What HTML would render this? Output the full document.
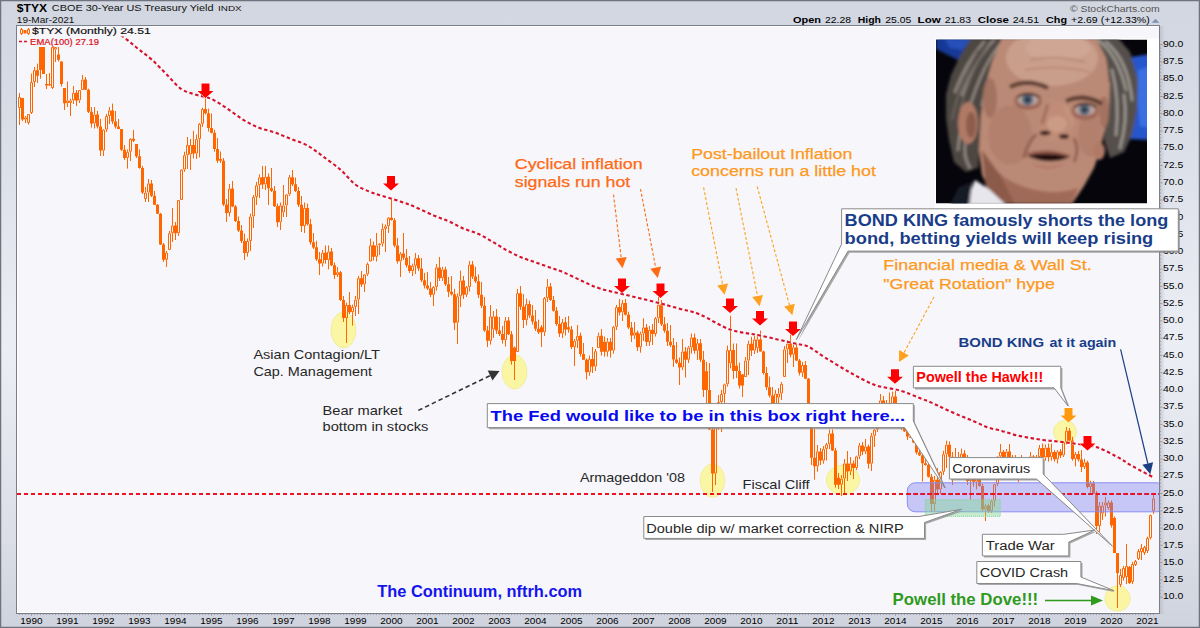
<!DOCTYPE html><html><head><meta charset="utf-8"><style>html,body{margin:0;padding:0;background:#d5d9e2;}svg{display:block;}</style></head><body><svg width="1200" height="628" viewBox="0 0 1200 628" font-family="Liberation Sans"><defs><filter id="bl" x="-5%" y="-5%" width="110%" height="110%"><feGaussianBlur stdDeviation="1.6"/></filter><filter id="bl2"><feGaussianBlur stdDeviation="0.8"/></filter><clipPath id="plot"><rect x="17" y="26" width="1142" height="587"/></clipPath><clipPath id="ph"><rect x="936" y="39.5" width="211" height="164"/></clipPath><radialGradient id="skin" cx="0.45" cy="0.35" r="0.7"><stop offset="0" stop-color="#d3a38d"/><stop offset="0.6" stop-color="#c08a74"/><stop offset="1" stop-color="#9a6a58"/></radialGradient></defs><linearGradient id="bgg" x1="0" y1="0" x2="0" y2="1"><stop offset="0" stop-color="#d2d6e0"/><stop offset="0.12" stop-color="#d6dae4"/><stop offset="0.55" stop-color="#eceef5"/><stop offset="0.85" stop-color="#dcdfe8"/><stop offset="1" stop-color="#cfd3dd"/></linearGradient><rect x="0" y="0" width="1200" height="628" fill="url(#bgg)"/><rect x="0.5" y="0.5" width="1199" height="627" fill="none" stroke="#6e737e" stroke-width="1.5"/><rect x="16.5" y="25.5" width="1143" height="588" fill="#f6f6fb" stroke="#7a7e88" stroke-width="1"/><path d="M17.5 26.5H1158.5M17.5 26.5V612.5H1158.5" stroke="#ffffff" stroke-width="1" fill="none"/><linearGradient id="shr" x1="0" y1="0" x2="1" y2="0"><stop offset="0" stop-color="#b8bcc6" stop-opacity="0.7"/><stop offset="1" stop-color="#b8bcc6" stop-opacity="0"/></linearGradient><rect x="1160" y="26" width="5" height="588" fill="url(#shr)"/><path d="M1159.5 597.1h3M1159.5 593.6h1.5M1159.5 590.2h1.5M1159.5 586.7h1.5M1159.5 583.3h1.5M1159.5 579.8h3M1159.5 576.4h1.5M1159.5 572.9h1.5M1159.5 569.5h1.5M1159.5 566h1.5M1159.5 562.5h3M1159.5 559.1h1.5M1159.5 555.6h1.5M1159.5 552.2h1.5M1159.5 548.7h1.5M1159.5 545.3h3M1159.5 541.8h1.5M1159.5 538.4h1.5M1159.5 534.9h1.5M1159.5 531.5h1.5M1159.5 528h3M1159.5 524.6h1.5M1159.5 521.1h1.5M1159.5 517.7h1.5M1159.5 514.2h1.5M1159.5 510.8h3M1159.5 507.3h1.5M1159.5 503.9h1.5M1159.5 500.4h1.5M1159.5 497h1.5M1159.5 493.5h3M1159.5 490h1.5M1159.5 486.6h1.5M1159.5 483.1h1.5M1159.5 479.7h1.5M1159.5 476.2h3M1159.5 472.8h1.5M1159.5 469.3h1.5M1159.5 465.9h1.5M1159.5 462.4h1.5M1159.5 459h3M1159.5 455.5h1.5M1159.5 452.1h1.5M1159.5 448.6h1.5M1159.5 445.2h1.5M1159.5 441.7h3M1159.5 438.3h1.5M1159.5 434.8h1.5M1159.5 431.4h1.5M1159.5 427.9h1.5M1159.5 424.4h3M1159.5 421h1.5M1159.5 417.5h1.5M1159.5 414.1h1.5M1159.5 410.6h1.5M1159.5 407.2h3M1159.5 403.7h1.5M1159.5 400.3h1.5M1159.5 396.8h1.5M1159.5 393.4h1.5M1159.5 389.9h3M1159.5 386.5h1.5M1159.5 383h1.5M1159.5 379.6h1.5M1159.5 376.1h1.5M1159.5 372.7h3M1159.5 369.2h1.5M1159.5 365.8h1.5M1159.5 362.3h1.5M1159.5 358.9h1.5M1159.5 355.4h3M1159.5 351.9h1.5M1159.5 348.5h1.5M1159.5 345h1.5M1159.5 341.6h1.5M1159.5 338.1h3M1159.5 334.7h1.5M1159.5 331.2h1.5M1159.5 327.8h1.5M1159.5 324.3h1.5M1159.5 320.9h3M1159.5 317.4h1.5M1159.5 314h1.5M1159.5 310.5h1.5M1159.5 307.1h1.5M1159.5 303.6h3M1159.5 300.2h1.5M1159.5 296.7h1.5M1159.5 293.3h1.5M1159.5 289.8h1.5M1159.5 286.4h3M1159.5 282.9h1.5M1159.5 279.4h1.5M1159.5 276h1.5M1159.5 272.5h1.5M1159.5 269.1h3M1159.5 265.6h1.5M1159.5 262.2h1.5M1159.5 258.7h1.5M1159.5 255.3h1.5M1159.5 251.8h3M1159.5 248.4h1.5M1159.5 244.9h1.5M1159.5 241.5h1.5M1159.5 238h1.5M1159.5 234.6h3M1159.5 231.1h1.5M1159.5 227.7h1.5M1159.5 224.2h1.5M1159.5 220.8h1.5M1159.5 217.3h3M1159.5 213.8h1.5M1159.5 210.4h1.5M1159.5 206.9h1.5M1159.5 203.5h1.5M1159.5 200h3M1159.5 196.6h1.5M1159.5 193.1h1.5M1159.5 189.7h1.5M1159.5 186.2h1.5M1159.5 182.8h3M1159.5 179.3h1.5M1159.5 175.9h1.5M1159.5 172.4h1.5M1159.5 169h1.5M1159.5 165.5h3M1159.5 162.1h1.5M1159.5 158.6h1.5M1159.5 155.2h1.5M1159.5 151.7h1.5M1159.5 148.2h3M1159.5 144.8h1.5M1159.5 141.3h1.5M1159.5 137.9h1.5M1159.5 134.4h1.5M1159.5 131h3M1159.5 127.5h1.5M1159.5 124.1h1.5M1159.5 120.6h1.5M1159.5 117.2h1.5M1159.5 113.7h3M1159.5 110.3h1.5M1159.5 106.8h1.5M1159.5 103.4h1.5M1159.5 99.9h1.5M1159.5 96.5h3M1159.5 93h1.5M1159.5 89.6h1.5M1159.5 86.1h1.5M1159.5 82.7h1.5M1159.5 79.2h3M1159.5 75.7h1.5M1159.5 72.3h1.5M1159.5 68.8h1.5M1159.5 65.4h1.5M1159.5 61.9h3M1159.5 58.5h1.5M1159.5 55h1.5M1159.5 51.6h1.5M1159.5 48.1h1.5M1159.5 44.7h3" stroke="#8a8e98" stroke-width="0.8" fill="none"/><path d="M19.5 614v1M22.5 614v1M25.5 614v1M28.5 614v1M31.5 614v2M34.5 614v1M37.5 614v1M40.5 614v1M43.5 614v1M46.5 614v1M49.5 614v1M52.5 614v1M55.5 614v1M58.5 614v1M61.5 614v1M64.5 614v1M67.5 614v2M70.5 614v1M73.5 614v1M76.5 614v1M79.5 614v1M82.5 614v1M85.5 614v1M88.5 614v1M91.5 614v1M94.5 614v1M97.5 614v1M100.5 614v1M103.5 614v2M106.5 614v1M109.5 614v1M112.5 614v1M115.5 614v1M118.5 614v1M121.5 614v1M124.5 614v1M127.5 614v1M130.5 614v1M133.5 614v1M136.5 614v1M139.5 614v2M142.5 614v1M145.5 614v1M148.5 614v1M151.5 614v1M154.5 614v1M157.5 614v1M160.5 614v1M163.5 614v1M166.5 614v1M169.5 614v1M172.5 614v1M175.5 614v2M178.5 614v1M181.5 614v1M184.5 614v1M187.5 614v1M190.5 614v1M193.5 614v1M196.5 614v1M199.5 614v1M202.5 614v1M205.5 614v1M208.5 614v1M211.5 614v2M214.5 614v1M217.5 614v1M220.5 614v1M223.5 614v1M226.5 614v1M229.5 614v1M232.5 614v1M235.5 614v1M238.5 614v1M241.5 614v1M244.5 614v1M247.5 614v2M250.5 614v1M253.5 614v1M256.5 614v1M259.5 614v1M262.5 614v1M265.5 614v1M268.5 614v1M271.5 614v1M274.5 614v1M277.5 614v1M280.5 614v1M283.5 614v2M286.5 614v1M289.5 614v1M292.5 614v1M295.5 614v1M298.5 614v1M301.5 614v1M304.5 614v1M307.5 614v1M310.5 614v1M313.5 614v1M316.5 614v1M319.5 614v2M322.5 614v1M325.5 614v1M328.5 614v1M331.5 614v1M334.5 614v1M337.5 614v1M340.5 614v1M343.5 614v1M346.5 614v1M349.5 614v1M352.5 614v1M355.5 614v2M358.5 614v1M361.5 614v1M364.5 614v1M367.5 614v1M370.5 614v1M373.5 614v1M376.5 614v1M379.5 614v1M382.5 614v1M385.5 614v1M388.5 614v1M391.5 614v2M394.5 614v1M397.5 614v1M400.5 614v1M403.5 614v1M406.5 614v1M409.5 614v1M412.5 614v1M415.5 614v1M418.5 614v1M421.5 614v1M424.5 614v1M427.5 614v2M430.5 614v1M433.5 614v1M436.5 614v1M439.5 614v1M442.5 614v1M445.5 614v1M448.5 614v1M451.5 614v1M454.5 614v1M457.5 614v1M460.5 614v1M463.5 614v2M466.5 614v1M469.5 614v1M472.5 614v1M475.5 614v1M478.5 614v1M481.5 614v1M484.5 614v1M487.5 614v1M490.5 614v1M493.5 614v1M496.5 614v1M499.5 614v2M502.5 614v1M505.5 614v1M508.5 614v1M511.5 614v1M514.5 614v1M517.5 614v1M520.5 614v1M523.5 614v1M526.5 614v1M529.5 614v1M532.5 614v1M535.5 614v2M538.5 614v1M541.5 614v1M544.5 614v1M547.5 614v1M550.5 614v1M553.5 614v1M556.5 614v1M559.5 614v1M562.5 614v1M565.5 614v1M568.5 614v1M571.5 614v2M574.5 614v1M577.5 614v1M580.5 614v1M583.5 614v1M586.5 614v1M589.5 614v1M592.5 614v1M595.5 614v1M598.5 614v1M601.5 614v1M604.5 614v1M607.5 614v2M610.5 614v1M613.5 614v1M616.5 614v1M619.5 614v1M622.5 614v1M625.5 614v1M628.5 614v1M631.5 614v1M634.5 614v1M637.5 614v1M640.5 614v1M643.5 614v2M646.5 614v1M649.5 614v1M652.5 614v1M655.5 614v1M658.5 614v1M661.5 614v1M664.5 614v1M667.5 614v1M670.5 614v1M673.5 614v1M676.5 614v1M679.5 614v2M682.5 614v1M685.5 614v1M688.5 614v1M691.5 614v1M694.5 614v1M697.5 614v1M700.5 614v1M703.5 614v1M706.5 614v1M709.5 614v1M712.5 614v1M715.5 614v2M718.5 614v1M721.5 614v1M724.5 614v1M727.5 614v1M730.5 614v1M733.5 614v1M736.5 614v1M739.5 614v1M742.5 614v1M745.5 614v1M748.5 614v1M751.5 614v2M754.5 614v1M757.5 614v1M760.5 614v1M763.5 614v1M766.5 614v1M769.5 614v1M772.5 614v1M775.5 614v1M778.5 614v1M781.5 614v1M784.5 614v1M787.5 614v2M790.5 614v1M793.5 614v1M796.5 614v1M799.5 614v1M802.5 614v1M805.5 614v1M808.5 614v1M811.5 614v1M814.5 614v1M817.5 614v1M820.5 614v1M823.5 614v2M826.5 614v1M829.5 614v1M832.5 614v1M835.5 614v1M838.5 614v1M841.5 614v1M844.5 614v1M847.5 614v1M850.5 614v1M853.5 614v1M856.5 614v1M859.5 614v2M862.5 614v1M865.5 614v1M868.5 614v1M871.5 614v1M874.5 614v1M877.5 614v1M880.5 614v1M883.5 614v1M886.5 614v1M889.5 614v1M892.5 614v1M895.5 614v2M898.5 614v1M901.5 614v1M904.5 614v1M907.5 614v1M910.5 614v1M913.5 614v1M916.5 614v1M919.5 614v1M922.5 614v1M925.5 614v1M928.5 614v1M931.5 614v2M934.5 614v1M937.5 614v1M940.5 614v1M943.5 614v1M946.5 614v1M949.5 614v1M952.5 614v1M955.5 614v1M958.5 614v1M961.5 614v1M964.5 614v1M967.5 614v2M970.5 614v1M973.5 614v1M976.5 614v1M979.5 614v1M982.5 614v1M985.5 614v1M988.5 614v1M991.5 614v1M994.5 614v1M997.5 614v1M1000.5 614v1M1003.5 614v2M1006.5 614v1M1009.5 614v1M1012.5 614v1M1015.5 614v1M1018.5 614v1M1021.5 614v1M1024.5 614v1M1027.5 614v1M1030.5 614v1M1033.5 614v1M1036.5 614v1M1039.5 614v2M1042.5 614v1M1045.5 614v1M1048.5 614v1M1051.5 614v1M1054.5 614v1M1057.5 614v1M1060.5 614v1M1063.5 614v1M1066.5 614v1M1069.5 614v1M1072.5 614v1M1075.5 614v2M1078.5 614v1M1081.5 614v1M1084.5 614v1M1087.5 614v1M1090.5 614v1M1093.5 614v1M1096.5 614v1M1099.5 614v1M1102.5 614v1M1105.5 614v1M1108.5 614v1M1111.5 614v2M1114.5 614v1M1117.5 614v1M1120.5 614v1M1123.5 614v1M1126.5 614v1M1129.5 614v1M1132.5 614v1M1135.5 614v1M1138.5 614v1M1141.5 614v1M1144.5 614v1M1147.5 614v2M1150.5 614v1M1153.5 614v1" stroke="#8a8e98" stroke-width="0.7" fill="none"/><text x="1163" y="599.3" font-size="9.3" fill="#000" textLength="20.3" lengthAdjust="spacingAndGlyphs" font-family="Liberation Sans">10.0</text><text x="1163" y="582" font-size="9.3" fill="#000" textLength="20.3" lengthAdjust="spacingAndGlyphs" font-family="Liberation Sans">12.5</text><text x="1163" y="564.8" font-size="9.3" fill="#000" textLength="20.3" lengthAdjust="spacingAndGlyphs" font-family="Liberation Sans">15.0</text><text x="1163" y="547.5" font-size="9.3" fill="#000" textLength="20.3" lengthAdjust="spacingAndGlyphs" font-family="Liberation Sans">17.5</text><text x="1163" y="530.2" font-size="9.3" fill="#000" textLength="20.3" lengthAdjust="spacingAndGlyphs" font-family="Liberation Sans">20.0</text><text x="1163" y="513" font-size="9.3" fill="#000" textLength="20.3" lengthAdjust="spacingAndGlyphs" font-family="Liberation Sans">22.5</text><text x="1163" y="495.7" font-size="9.3" fill="#000" textLength="20.3" lengthAdjust="spacingAndGlyphs" font-family="Liberation Sans">25.0</text><text x="1163" y="478.4" font-size="9.3" fill="#000" textLength="20.3" lengthAdjust="spacingAndGlyphs" font-family="Liberation Sans">27.5</text><text x="1163" y="461.2" font-size="9.3" fill="#000" textLength="20.3" lengthAdjust="spacingAndGlyphs" font-family="Liberation Sans">30.0</text><text x="1163" y="443.9" font-size="9.3" fill="#000" textLength="20.3" lengthAdjust="spacingAndGlyphs" font-family="Liberation Sans">32.5</text><text x="1163" y="426.6" font-size="9.3" fill="#000" textLength="20.3" lengthAdjust="spacingAndGlyphs" font-family="Liberation Sans">35.0</text><text x="1163" y="409.4" font-size="9.3" fill="#000" textLength="20.3" lengthAdjust="spacingAndGlyphs" font-family="Liberation Sans">37.5</text><text x="1163" y="392.1" font-size="9.3" fill="#000" textLength="20.3" lengthAdjust="spacingAndGlyphs" font-family="Liberation Sans">40.0</text><text x="1163" y="374.9" font-size="9.3" fill="#000" textLength="20.3" lengthAdjust="spacingAndGlyphs" font-family="Liberation Sans">42.5</text><text x="1163" y="357.6" font-size="9.3" fill="#000" textLength="20.3" lengthAdjust="spacingAndGlyphs" font-family="Liberation Sans">45.0</text><text x="1163" y="340.3" font-size="9.3" fill="#000" textLength="20.3" lengthAdjust="spacingAndGlyphs" font-family="Liberation Sans">47.5</text><text x="1163" y="323.1" font-size="9.3" fill="#000" textLength="20.3" lengthAdjust="spacingAndGlyphs" font-family="Liberation Sans">50.0</text><text x="1163" y="305.8" font-size="9.3" fill="#000" textLength="20.3" lengthAdjust="spacingAndGlyphs" font-family="Liberation Sans">52.5</text><text x="1163" y="288.6" font-size="9.3" fill="#000" textLength="20.3" lengthAdjust="spacingAndGlyphs" font-family="Liberation Sans">55.0</text><text x="1163" y="271.3" font-size="9.3" fill="#000" textLength="20.3" lengthAdjust="spacingAndGlyphs" font-family="Liberation Sans">57.5</text><text x="1163" y="254" font-size="9.3" fill="#000" textLength="20.3" lengthAdjust="spacingAndGlyphs" font-family="Liberation Sans">60.0</text><text x="1163" y="236.8" font-size="9.3" fill="#000" textLength="20.3" lengthAdjust="spacingAndGlyphs" font-family="Liberation Sans">62.5</text><text x="1163" y="219.5" font-size="9.3" fill="#000" textLength="20.3" lengthAdjust="spacingAndGlyphs" font-family="Liberation Sans">65.0</text><text x="1163" y="202.2" font-size="9.3" fill="#000" textLength="20.3" lengthAdjust="spacingAndGlyphs" font-family="Liberation Sans">67.5</text><text x="1163" y="185" font-size="9.3" fill="#000" textLength="20.3" lengthAdjust="spacingAndGlyphs" font-family="Liberation Sans">70.0</text><text x="1163" y="167.7" font-size="9.3" fill="#000" textLength="20.3" lengthAdjust="spacingAndGlyphs" font-family="Liberation Sans">72.5</text><text x="1163" y="150.4" font-size="9.3" fill="#000" textLength="20.3" lengthAdjust="spacingAndGlyphs" font-family="Liberation Sans">75.0</text><text x="1163" y="133.2" font-size="9.3" fill="#000" textLength="20.3" lengthAdjust="spacingAndGlyphs" font-family="Liberation Sans">77.5</text><text x="1163" y="115.9" font-size="9.3" fill="#000" textLength="20.3" lengthAdjust="spacingAndGlyphs" font-family="Liberation Sans">80.0</text><text x="1163" y="98.7" font-size="9.3" fill="#000" textLength="20.3" lengthAdjust="spacingAndGlyphs" font-family="Liberation Sans">82.5</text><text x="1163" y="81.4" font-size="9.3" fill="#000" textLength="20.3" lengthAdjust="spacingAndGlyphs" font-family="Liberation Sans">85.0</text><text x="1163" y="64.1" font-size="9.3" fill="#000" textLength="20.3" lengthAdjust="spacingAndGlyphs" font-family="Liberation Sans">87.5</text><text x="1163" y="46.9" font-size="9.3" fill="#000" textLength="20.3" lengthAdjust="spacingAndGlyphs" font-family="Liberation Sans">90.0</text><text x="20.3" y="623.8" font-size="9.6" fill="#000" textLength="22.2" lengthAdjust="spacingAndGlyphs" font-family="Liberation Sans">1990</text><text x="56.3" y="623.8" font-size="9.6" fill="#000" textLength="22.2" lengthAdjust="spacingAndGlyphs" font-family="Liberation Sans">1991</text><text x="92.3" y="623.8" font-size="9.6" fill="#000" textLength="22.2" lengthAdjust="spacingAndGlyphs" font-family="Liberation Sans">1992</text><text x="128.3" y="623.8" font-size="9.6" fill="#000" textLength="22.2" lengthAdjust="spacingAndGlyphs" font-family="Liberation Sans">1993</text><text x="164.3" y="623.8" font-size="9.6" fill="#000" textLength="22.2" lengthAdjust="spacingAndGlyphs" font-family="Liberation Sans">1994</text><text x="200.3" y="623.8" font-size="9.6" fill="#000" textLength="22.2" lengthAdjust="spacingAndGlyphs" font-family="Liberation Sans">1995</text><text x="236.3" y="623.8" font-size="9.6" fill="#000" textLength="22.2" lengthAdjust="spacingAndGlyphs" font-family="Liberation Sans">1996</text><text x="272.3" y="623.8" font-size="9.6" fill="#000" textLength="22.2" lengthAdjust="spacingAndGlyphs" font-family="Liberation Sans">1997</text><text x="308.3" y="623.8" font-size="9.6" fill="#000" textLength="22.2" lengthAdjust="spacingAndGlyphs" font-family="Liberation Sans">1998</text><text x="344.3" y="623.8" font-size="9.6" fill="#000" textLength="22.2" lengthAdjust="spacingAndGlyphs" font-family="Liberation Sans">1999</text><text x="380.3" y="623.8" font-size="9.6" fill="#000" textLength="22.2" lengthAdjust="spacingAndGlyphs" font-family="Liberation Sans">2000</text><text x="416.3" y="623.8" font-size="9.6" fill="#000" textLength="22.2" lengthAdjust="spacingAndGlyphs" font-family="Liberation Sans">2001</text><text x="452.3" y="623.8" font-size="9.6" fill="#000" textLength="22.2" lengthAdjust="spacingAndGlyphs" font-family="Liberation Sans">2002</text><text x="488.3" y="623.8" font-size="9.6" fill="#000" textLength="22.2" lengthAdjust="spacingAndGlyphs" font-family="Liberation Sans">2003</text><text x="524.3" y="623.8" font-size="9.6" fill="#000" textLength="22.2" lengthAdjust="spacingAndGlyphs" font-family="Liberation Sans">2004</text><text x="560.3" y="623.8" font-size="9.6" fill="#000" textLength="22.2" lengthAdjust="spacingAndGlyphs" font-family="Liberation Sans">2005</text><text x="596.3" y="623.8" font-size="9.6" fill="#000" textLength="22.2" lengthAdjust="spacingAndGlyphs" font-family="Liberation Sans">2006</text><text x="632.3" y="623.8" font-size="9.6" fill="#000" textLength="22.2" lengthAdjust="spacingAndGlyphs" font-family="Liberation Sans">2007</text><text x="668.3" y="623.8" font-size="9.6" fill="#000" textLength="22.2" lengthAdjust="spacingAndGlyphs" font-family="Liberation Sans">2008</text><text x="704.3" y="623.8" font-size="9.6" fill="#000" textLength="22.2" lengthAdjust="spacingAndGlyphs" font-family="Liberation Sans">2009</text><text x="740.3" y="623.8" font-size="9.6" fill="#000" textLength="22.2" lengthAdjust="spacingAndGlyphs" font-family="Liberation Sans">2010</text><text x="776.3" y="623.8" font-size="9.6" fill="#000" textLength="22.2" lengthAdjust="spacingAndGlyphs" font-family="Liberation Sans">2011</text><text x="812.3" y="623.8" font-size="9.6" fill="#000" textLength="22.2" lengthAdjust="spacingAndGlyphs" font-family="Liberation Sans">2012</text><text x="848.3" y="623.8" font-size="9.6" fill="#000" textLength="22.2" lengthAdjust="spacingAndGlyphs" font-family="Liberation Sans">2013</text><text x="884.3" y="623.8" font-size="9.6" fill="#000" textLength="22.2" lengthAdjust="spacingAndGlyphs" font-family="Liberation Sans">2014</text><text x="920.3" y="623.8" font-size="9.6" fill="#000" textLength="22.2" lengthAdjust="spacingAndGlyphs" font-family="Liberation Sans">2015</text><text x="956.3" y="623.8" font-size="9.6" fill="#000" textLength="22.2" lengthAdjust="spacingAndGlyphs" font-family="Liberation Sans">2016</text><text x="992.3" y="623.8" font-size="9.6" fill="#000" textLength="22.2" lengthAdjust="spacingAndGlyphs" font-family="Liberation Sans">2017</text><text x="1028.3" y="623.8" font-size="9.6" fill="#000" textLength="22.2" lengthAdjust="spacingAndGlyphs" font-family="Liberation Sans">2018</text><text x="1064.3" y="623.8" font-size="9.6" fill="#000" textLength="22.2" lengthAdjust="spacingAndGlyphs" font-family="Liberation Sans">2019</text><text x="1100.3" y="623.8" font-size="9.6" fill="#000" textLength="22.2" lengthAdjust="spacingAndGlyphs" font-family="Liberation Sans">2020</text><text x="1136.3" y="623.8" font-size="9.6" fill="#000" textLength="22.2" lengthAdjust="spacingAndGlyphs" font-family="Liberation Sans">2021</text><g clip-path="url(#plot)"><ellipse cx="343.5" cy="330" rx="12.5" ry="18" fill="#faf6a4" stroke="#f0eb96" stroke-width="0.8"/><ellipse cx="514.5" cy="372" rx="12.5" ry="17" fill="#faf6a4" stroke="#f0eb96" stroke-width="0.8"/><ellipse cx="712.5" cy="480.6" rx="12.3" ry="16.7" fill="#faf6a4" stroke="#f0eb96" stroke-width="0.8"/><ellipse cx="843" cy="480" rx="16.7" ry="15" fill="#faf6a4" stroke="#f0eb96" stroke-width="0.8"/><ellipse cx="1065" cy="432" rx="11.5" ry="11.5" fill="#faf6a4" stroke="#f0eb96" stroke-width="0.8"/><ellipse cx="1117.6" cy="598.5" rx="12.7" ry="12.7" fill="#faf6a4" stroke="#f0eb96" stroke-width="0.8"/><path d="M17 494H1159" stroke="#ee1122" stroke-width="2" stroke-dasharray="4 3" fill="none"/><g fill="none" stroke="#ff6600" stroke-width="1"><path d="M19.5 93V97M19.5 108V125M22.5 98V121M25.5 116V117.4M25.5 119.6V123M28.5 123V124.5M31.5 73.7V82M31.5 113V114M34.5 67V70.2M34.5 82V87M37.5 63.6V83M40.5 47V78.7M43.5 47V74M46.5 74V89M49.5 73V84M49.5 85.6V86M52.5 88V89M55.5 49.5V62M58.5 47V61.5M61.5 61.5V86.5M64.5 88V110M67.5 81.5V100.4M67.5 103.2V107M70.5 98.7V100.4M70.5 102.9V116M73.5 86V92.8M73.5 100.4V104M76.5 90V106M79.5 100.4V103M82.5 75V79.6M85.5 77V90M88.5 88.7V113M91.5 107V127.5M94.5 107V114.5M94.5 123.4V128.5M97.5 111V128.5M100.5 119V156M103.5 129V129.6M103.5 150.6V156M106.5 114V116M106.5 129.6V132M109.5 107V110.4M109.5 116V124M112.5 103.6V124M115.5 111V128.5M118.5 119V129M121.5 129V151M124.5 145V160M127.5 149.5V151.8M127.5 157.9V168.6M130.5 138V138.8M130.5 151.8V161M133.5 130V142M136.5 144V158M139.5 149.5V168.6M142.5 166V194M145.5 187V192.6M145.5 199V202M148.5 179V183.4M148.5 192.6V202M151.5 180V197M154.5 191V205M157.5 204V214M160.5 213V245M163.5 243V262M166.5 251V252.6M166.5 259.8V267M169.5 231V233.2M172.5 208V225.6M172.5 233.2V242M175.5 222V240M178.5 233.2V236M181.5 169V169.6M184.5 151.7V155.2M184.5 169.6V171.8M187.5 137V145M187.5 155.2V169M190.5 139V145M190.5 154.5V170M193.5 130.7V158.4M196.5 134.5V139.1M196.5 153.6V159M199.5 123V123.8M199.5 139.1V157.4M202.5 107.7V109M202.5 123.8V127M205.5 98V114.4M208.5 108.7V131.6M211.5 113.5V133.5M214.5 129.7V151.7M217.5 138V163M220.5 151.5V163M223.5 158V206M226.5 199V222M229.5 184V188.6M229.5 213V216.5M232.5 181V207M235.5 205V222M238.5 216.5V232M241.5 225V243M244.5 233.7V260M247.5 238.5V241M247.5 253V256.6M250.5 213.6V216.5M250.5 241V251M253.5 195V197M253.5 216.5V228M256.5 182V185.2M256.5 197V205M259.5 174.4V177.3M259.5 185.2V198M262.5 166V189M265.5 166V176.8M265.5 184.4V190M268.5 173.5V205M271.5 168V192M274.5 186V207M277.5 203.5V227M280.5 202.5V205.4M280.5 222.3V230M283.5 185V205.4M283.5 212.4V217M286.5 194V194.4M286.5 205.4V217M289.5 175V177.2M289.5 194.4V196M292.5 170V186M295.5 177.6V192M298.5 187V207M301.5 196V232M304.5 202.5V207.9M304.5 226.1V233M307.5 203.5V225.5M310.5 219V244.6M313.5 233V249M316.5 240.7V261M319.5 252V275M322.5 250V252.7M322.5 263.6V266.5M325.5 245.5V263.7M328.5 245.5V251.6M328.5 260.1V269.4M331.5 248V266M334.5 262.5V279M337.5 267V272.2M337.5 275V277M340.5 271V301M343.5 296V322M346.5 302.7V305M346.5 318.1V343M349.5 292V314M352.5 304.6V306.9M352.5 312.1V325.6M355.5 296V299.6M355.5 306.9V316M358.5 276V278.2M358.5 299.6V314M361.5 271V287M364.5 274V274.4M364.5 284.4V292M367.5 262.5V263.9M367.5 274.4V276M370.5 238.6V245.3M373.5 241.5V260.6M376.5 233V245.4M376.5 256.8V261.5M379.5 243V243.7M379.5 245.4V255M382.5 223.5V228.9M382.5 243.7V246.5M385.5 224.5V226.2M385.5 228.9V252M388.5 217V217.7M388.5 226.2V233M391.5 197.7V220.7M394.5 218V247.4M397.5 238V263.7M400.5 252V253.6M400.5 261.4V277M403.5 233V260M406.5 249V267.5M409.5 256V273M412.5 263.7V265.8M412.5 271.1V276M415.5 253V258.2M415.5 265.8V274M418.5 255V271M421.5 258V282M424.5 273V288.5M427.5 272V290M430.5 282V297M433.5 286V286.9M433.5 294.8V306M436.5 264V267.4M436.5 286.9V290.7M439.5 257V281M442.5 266.8V269.6M442.5 278.2V281M445.5 266.8V286M448.5 277V297M451.5 276V295.5M454.5 288.8V330M457.5 293.5V296.2M457.5 322.7V344M460.5 270.6V280.6M460.5 296.2V307M463.5 276V299M466.5 286V287.1M466.5 294.8V297M469.5 261V264.6M469.5 287.1V291.6M472.5 261V279M475.5 266.8V283M478.5 274.4V298M481.5 282V308M484.5 297V331.8M487.5 326V347M490.5 305V316.4M490.5 340.9V344.6M493.5 311V316.4M493.5 329.4V338M496.5 309V334M499.5 317V336M502.5 326V343.6M505.5 317V320.6M505.5 340.1V346.5M508.5 317V335M511.5 331V364.6M514.5 346.5V380M517.5 289V293.2M520.5 286V310M523.5 294V328M526.5 298.7V304.1M526.5 320.1V325.4M529.5 300.6V318M532.5 305V324.5M535.5 310V331M538.5 319.7V334M541.5 325V347M544.5 297V298M544.5 332.2V336M547.5 279V286.6M547.5 298V302M550.5 283V301M553.5 296V311.6M556.5 307V326M559.5 316V337M562.5 319V322.3M562.5 333.4V338M565.5 317V335.5M568.5 316V332.7M571.5 326V349M574.5 339V340.8M574.5 347V366M577.5 325V335.8M577.5 340.8V348M580.5 332.7V356.6M583.5 343V360M586.5 358.5V379.5M589.5 355.6V359.1M589.5 372.3V375.7M592.5 347V373M595.5 349V351.2M595.5 366.6V371M598.5 332.7V335.8M601.5 329V355.6M604.5 336.5V356.6M607.5 338V341.7M607.5 351.8V356.6M610.5 338V357.5M613.5 326V326.8M613.5 350.6V353.7M616.5 305V307.1M616.5 326.8V330M619.5 299V315.5M622.5 300V303.1M622.5 312.4V321M625.5 299V315.5M628.5 311.6V329M631.5 322V342M634.5 322V332.4M634.5 335.6V339M637.5 330.7V351M640.5 331.7V333.6M640.5 347.1V352.7M643.5 318.3V327.4M643.5 333.6V341M646.5 324V346M649.5 326V329.8M649.5 342V346M652.5 324V345M655.5 317V318.2M655.5 334V336.5M658.5 297V304.6M658.5 318.2V323M661.5 300V326M664.5 317V332.7M667.5 323V346M670.5 325V347M673.5 338V367M676.5 342V364M679.5 357.5V385M682.5 339V351.6M682.5 367.5V370M685.5 347V377.6M688.5 346V347.5M688.5 359.8V363M691.5 333.6V337.6M691.5 347.5V353.7M694.5 333.6V353.7M697.5 339V343.2M697.5 350.8V360M700.5 339V362M703.5 351V397M706.5 362V404M709.5 363V430M712.5 428V492M715.5 415V418M715.5 473.6V485M718.5 395V402M718.5 418V430M721.5 390V394M721.5 402V432M724.5 383.7V384.3M724.5 394V410M727.5 345.5V350.1M727.5 384.3V386.6M730.5 315.8V350.1M730.5 363.4V368.4M733.5 343.5V379M736.5 343.5V378M739.5 362.7V388.5M742.5 374V397M745.5 357V360.6M748.5 340.7V343.8M748.5 360.6V375M751.5 336.8V356M754.5 336V339.4M754.5 350.6V354M757.5 334V339.4M757.5 348.1V353M760.5 330.6V351.6M763.5 350.7V374.6M766.5 367V390M769.5 376.5V397.5M772.5 387V410M775.5 390V393.6M775.5 406V412M778.5 388V393.6M778.5 397.6V408M781.5 382V383.8M781.5 393.6V400M784.5 346V349.4M787.5 340V343.5M787.5 349.4V363M790.5 334.4V357.4M793.5 344V347.4M793.5 354.7V367M796.5 344V361M799.5 359V375.5M802.5 362V365M802.5 372.8V377M805.5 361V379M808.5 378V420M811.5 420V465M814.5 428.7V479.6M817.5 445V451.4M817.5 466.4V471.7M820.5 448V465M823.5 446V448.9M823.5 460.6V463.7M826.5 443V444.2M826.5 448.9V460.5M829.5 429.5V433.4M829.5 444.2V449M832.5 429.5V451M835.5 447.8V487.6M838.5 473V489M841.5 475V478.6M841.5 484.7V496M844.5 459V463.4M844.5 478.6V493M847.5 451V481M850.5 457V463.4M850.5 471.4V475M853.5 460.5V479M856.5 455.7V456.4M856.5 468.1V470M859.5 443V445.4M859.5 456.4V459M862.5 442V455M865.5 439V446.5M865.5 451.6V454M868.5 444.6V468.5M871.5 433V435.8M871.5 463.7V471M874.5 429V429.6M874.5 435.8V447M877.5 410V412M877.5 429.6V432M880.5 394V400.4M880.5 412V420M883.5 396V418M886.5 400V403.6M886.5 414.4V425M889.5 392.5V418M892.5 391.7V396.4M892.5 410.5V415M895.5 391V420M898.5 405V428M901.5 410V418M901.5 424.4V430M904.5 415V432M907.5 428V440M910.5 431V437.7M913.5 437V443M916.5 441V454.5M919.5 444V456M922.5 452V481.5M925.5 453.7V465.6M928.5 463V477.5M931.5 474V511.8M934.5 476V479.8M934.5 504V511M937.5 468V495M940.5 471V471.8M940.5 489.4V494M943.5 450.8V454.2M943.5 471.8V475M946.5 440.7V444.7M946.5 454.2V468M949.5 441.4V458M952.5 452V485M955.5 448V457.2M955.5 472.8V478M958.5 452V480M961.5 448.6V453.6M961.5 466.4V470M964.5 450V468M967.5 455V485M970.5 465V469.3M970.5 481V499.5M973.5 460V486.6M976.5 462V466.9M976.5 481.7V489.4M979.5 460V486.6M982.5 483.7V511M985.5 503.8V505.6M985.5 509.6V521M988.5 503.8V513M991.5 499.5V500.9M991.5 511.2V513M994.5 483.7V484.2M994.5 500.9V506.6M997.5 456V456.6M997.5 484.2V486M1000.5 444V451.8M1000.5 456.6V459M1003.5 450V460M1006.5 449V451.6M1006.5 458V462M1009.5 444V462M1012.5 455V470M1015.5 455V470M1018.5 465V466M1018.5 469V482M1021.5 455V470M1024.5 465V478M1027.5 460V460.4M1027.5 475.4V478M1030.5 452V456.4M1030.5 460.4V462M1033.5 455V465M1036.5 455V457M1036.5 463V470M1039.5 445V448.1M1039.5 457V465M1042.5 443.5V460.7M1045.5 444.4V447.7M1045.5 457.4V460.7M1048.5 443.5V461.6M1051.5 443.5V452.1M1051.5 457.3V460.7M1054.5 450V461.6M1057.5 450V451.6M1057.5 459.3V463.5M1060.5 449V458M1063.5 441.5V442.1M1063.5 455.4V457M1066.5 427V430.7M1066.5 442.1V444.4M1069.5 428V441.5M1072.5 436.8V460.7M1075.5 452V453.9M1075.5 459V466.4M1078.5 451V461.6M1081.5 450V472M1084.5 458.8V462.4M1084.5 467V469M1087.5 460.7V488.4M1090.5 480.7V483.3M1090.5 486.9V492.5M1093.5 481V494M1096.5 491V534M1099.5 502V505.6M1099.5 526V532M1102.5 502V505.6M1102.5 513.6V520M1105.5 497V502.4M1105.5 505.6V516.5M1108.5 500.5V502.4M1108.5 508.1V510M1111.5 500.5V527.5M1114.5 516.5V553M1117.5 553V608M1120.5 569V575M1120.5 585V587M1123.5 566V568M1123.5 578V580.6M1126.5 544V566M1126.5 577V584M1129.5 566V584M1132.5 562V564M1132.5 582V584M1135.5 560V561M1135.5 565V566M1138.5 549V551M1138.5 559V560M1141.5 544V548M1141.5 552V560M1144.5 545.8V547M1144.5 553V555M1147.5 536.6V538M1147.5 551V553M1150.5 514.6V515M1150.5 538V539.4M1153.5 495V498.6M1153.5 511V514"/><path d="M18.5 97.5h2v10h-2zM24.5 117.9h2v1.2h-2zM27.5 114.5h2v8h-2zM30.5 82.5h2v30h-2zM33.5 70.7h2v10.8h-2zM48.5 84.5h2v0.6h-2zM51.5 47.5h2v40h-2zM54.5 47.5h2v1.5h-2zM66.5 100.9h2v1.8h-2zM69.5 100.9h2v1.6h-2zM72.5 93.3h2v6.6h-2zM78.5 90.5h2v9.4h-2zM81.5 80.1h2v9.4h-2zM93.5 115h2v7.9h-2zM102.5 130.1h2v20h-2zM105.5 116.5h2v12.6h-2zM108.5 110.9h2v4.6h-2zM126.5 152.3h2v5.1h-2zM129.5 139.3h2v12h-2zM144.5 193.1h2v5.4h-2zM147.5 183.9h2v8.2h-2zM165.5 253.1h2v6.2h-2zM168.5 233.7h2v15.8h-2zM171.5 226.1h2v6.6h-2zM177.5 200.5h2v32.2h-2zM180.5 170.1h2v29.4h-2zM183.5 155.7h2v13.4h-2zM186.5 145.5h2v9.2h-2zM189.5 145.5h2v8.5h-2zM195.5 139.6h2v13.5h-2zM198.5 124.3h2v14.3h-2zM201.5 109.5h2v13.8h-2zM228.5 189.1h2v23.4h-2zM246.5 241.5h2v11h-2zM249.5 217h2v23.5h-2zM252.5 197.5h2v18.5h-2zM255.5 185.7h2v10.8h-2zM258.5 177.8h2v6.9h-2zM264.5 177.3h2v6.6h-2zM279.5 205.9h2v15.9h-2zM282.5 205.9h2v6h-2zM285.5 194.9h2v10h-2zM288.5 177.7h2v16.2h-2zM303.5 208.4h2v17.2h-2zM321.5 253.2h2v9.9h-2zM327.5 252.1h2v7.5h-2zM336.5 272.7h2v1.8h-2zM345.5 305.5h2v12.2h-2zM351.5 307.4h2v4.2h-2zM354.5 300.1h2v6.3h-2zM357.5 278.7h2v20.4h-2zM363.5 274.9h2v9h-2zM366.5 264.4h2v9.5h-2zM369.5 245.8h2v15.2h-2zM375.5 245.9h2v10.4h-2zM378.5 244.2h2v0.7h-2zM381.5 229.4h2v13.8h-2zM384.5 226.7h2v1.7h-2zM387.5 218.2h2v7.5h-2zM399.5 254.1h2v6.8h-2zM411.5 266.3h2v4.4h-2zM414.5 258.7h2v6.6h-2zM432.5 287.4h2v6.9h-2zM435.5 267.9h2v18.5h-2zM441.5 270.1h2v7.5h-2zM456.5 296.7h2v25.5h-2zM459.5 281.1h2v14.6h-2zM465.5 287.6h2v6.7h-2zM468.5 265.1h2v21.5h-2zM489.5 316.9h2v23.5h-2zM492.5 316.9h2v12h-2zM504.5 321.1h2v18.5h-2zM516.5 293.7h2v57.8h-2zM525.5 304.6h2v15h-2zM543.5 298.5h2v33.2h-2zM546.5 287.1h2v10.4h-2zM561.5 322.8h2v10.1h-2zM573.5 341.3h2v5.2h-2zM576.5 336.3h2v4h-2zM588.5 359.6h2v12.2h-2zM594.5 351.7h2v14.4h-2zM597.5 336.3h2v11.2h-2zM606.5 342.2h2v9.1h-2zM612.5 327.3h2v22.8h-2zM615.5 307.6h2v18.7h-2zM621.5 303.6h2v8.3h-2zM633.5 332.9h2v2.2h-2zM639.5 334.1h2v12.6h-2zM642.5 327.9h2v5.2h-2zM648.5 330.3h2v11.2h-2zM654.5 318.7h2v14.8h-2zM657.5 305.1h2v12.6h-2zM681.5 352.1h2v14.9h-2zM687.5 348h2v11.3h-2zM690.5 338.1h2v8.9h-2zM696.5 343.7h2v6.6h-2zM714.5 418.5h2v54.6h-2zM717.5 402.5h2v15h-2zM720.5 394.5h2v7h-2zM723.5 384.8h2v8.7h-2zM726.5 350.6h2v33.2h-2zM729.5 350.6h2v12.3h-2zM744.5 361.1h2v15.4h-2zM747.5 344.3h2v15.8h-2zM753.5 339.9h2v10.2h-2zM756.5 339.9h2v7.7h-2zM774.5 394.1h2v11.4h-2zM777.5 394.1h2v3h-2zM780.5 384.3h2v8.8h-2zM783.5 349.9h2v26.6h-2zM786.5 344h2v4.9h-2zM792.5 347.9h2v6.3h-2zM801.5 365.5h2v6.8h-2zM816.5 451.9h2v14h-2zM822.5 449.4h2v10.7h-2zM825.5 444.7h2v3.7h-2zM828.5 433.9h2v9.8h-2zM840.5 479.1h2v5.1h-2zM843.5 463.9h2v14.2h-2zM849.5 463.9h2v7h-2zM855.5 456.9h2v10.7h-2zM858.5 445.9h2v10h-2zM864.5 447h2v4.1h-2zM870.5 436.3h2v26.9h-2zM873.5 430.1h2v5.2h-2zM876.5 412.5h2v16.6h-2zM879.5 400.9h2v10.6h-2zM885.5 404.1h2v9.8h-2zM891.5 396.9h2v13.1h-2zM900.5 418.5h2v5.4h-2zM933.5 480.3h2v23.2h-2zM939.5 472.3h2v16.6h-2zM942.5 454.7h2v16.6h-2zM945.5 445.2h2v8.5h-2zM954.5 457.7h2v14.6h-2zM960.5 454.1h2v11.8h-2zM969.5 469.8h2v10.7h-2zM975.5 467.4h2v13.8h-2zM984.5 506.1h2v2.9h-2zM990.5 501.4h2v9.2h-2zM993.5 484.7h2v15.8h-2zM996.5 457.1h2v26.6h-2zM999.5 452.3h2v3.8h-2zM1005.5 452.1h2v5.4h-2zM1017.5 466.5h2v2h-2zM1026.5 460.9h2v14h-2zM1029.5 456.9h2v3h-2zM1035.5 457.5h2v5h-2zM1038.5 448.6h2v7.9h-2zM1044.5 448.2h2v8.8h-2zM1050.5 452.6h2v4.1h-2zM1056.5 452.1h2v6.7h-2zM1062.5 442.6h2v12.3h-2zM1065.5 431.2h2v10.4h-2zM1074.5 454.4h2v4h-2zM1083.5 462.9h2v3.6h-2zM1089.5 483.8h2v2.6h-2zM1098.5 506.1h2v19.4h-2zM1101.5 506.1h2v7h-2zM1104.5 502.9h2v2.2h-2zM1107.5 502.9h2v4.7h-2zM1119.5 575.5h2v9h-2zM1122.5 568.5h2v9h-2zM1125.5 566.5h2v10h-2zM1131.5 564.5h2v17h-2zM1134.5 561.5h2v3h-2zM1137.5 551.5h2v7h-2zM1140.5 548.5h2v3h-2zM1143.5 547.5h2v5h-2zM1146.5 538.5h2v12h-2zM1149.5 515.5h2v22h-2zM1152.5 499.1h2v11.4h-2z"/></g><path fill="#ff6600" d="M21 98h3v21.6h-3zM36 70.2h3v5.5h-3zM39 47h3v23h-3zM42 47h3v27h-3zM45 84h3v1.6h-3zM57 54.6h3v5.1h-3zM60 61.5h3v22.5h-3zM63 88h3v15.2h-3zM75 92.8h3v7.6h-3zM84 79.6h3v10.1h-3zM87 89.7h3v22.1h-3zM90 111.8h3v11.6h-3zM96 114.5h3v12.1h-3zM99 126.6h3v24h-3zM111 110.4h3v11h-3zM114 121.4h3v5.2h-3zM117 126.6h3v2.4h-3zM120 129h3v20.8h-3zM123 149.8h3v8.1h-3zM132 138.8h3v2h-3zM135 144h3v12.3h-3zM138 156.3h3v11.8h-3zM141 168.1h3v24.5h-3zM150 183.4h3v12.4h-3zM153 195.8h3v9h-3zM156 204.8h3v9h-3zM159 213.8h3v30.8h-3zM162 244.6h3v15.2h-3zM174 225.6h3v7.6h-3zM192 145h3v8.6h-3zM204 109h3v4.2h-3zM207 113.3h3v14.7h-3zM210 128h3v4.8h-3zM213 132.7h3v16.2h-3zM216 149h3v11.7h-3zM219 159h3v1.7h-3zM222 160.7h3v43.9h-3zM225 204.6h3v8.4h-3zM231 188.6h3v18h-3zM234 206.6h3v14.3h-3zM237 220.9h3v9.7h-3zM240 230.6h3v10.5h-3zM243 241.1h3v11.8h-3zM261 177.3h3v7.1h-3zM267 176.8h3v11.5h-3zM270 188.3h3v2.5h-3zM273 190.8h3v15.5h-3zM276 206.3h3v16h-3zM291 177.2h3v7.1h-3zM294 184.3h3v6.7h-3zM297 191h3v13.8h-3zM300 204.8h3v21.3h-3zM306 207.9h3v16.3h-3zM309 224.2h3v18.1h-3zM312 242.3h3v5.1h-3zM315 247.3h3v11.9h-3zM318 259.2h3v4.4h-3zM324 252.7h3v7.3h-3zM330 251.6h3v13.7h-3zM333 265.3h3v9.7h-3zM339 272.2h3v27.8h-3zM342 300h3v18.1h-3zM348 305h3v7.2h-3zM360 278.2h3v6.2h-3zM372 245.3h3v11.5h-3zM390 217.7h3v2.4h-3zM393 220.2h3v25.4h-3zM396 245.5h3v15.8h-3zM402 253.6h3v4.2h-3zM405 257.8h3v7.4h-3zM408 265.2h3v5.9h-3zM417 258.2h3v10.2h-3zM420 268.4h3v11.8h-3zM423 280.2h3v5.2h-3zM426 285.4h3v3h-3zM429 288.4h3v6.4h-3zM438 267.4h3v10.8h-3zM444 269.6h3v14.6h-3zM447 284.2h3v7.6h-3zM450 291.8h3v2.4h-3zM453 294.2h3v28.5h-3zM462 280.6h3v14.2h-3zM471 264.6h3v12h-3zM474 276.6h3v4.7h-3zM477 281.3h3v13.5h-3zM480 294.8h3v11h-3zM483 305.8h3v24.8h-3zM486 330.6h3v10.2h-3zM495 316.4h3v14.2h-3zM498 330.6h3v3.4h-3zM501 334h3v6.1h-3zM507 320.6h3v13.6h-3zM510 334.2h3v26.8h-3zM513 347.6h3v13.4h-3zM519 293.2h3v13.6h-3zM522 306.8h3v13.3h-3zM528 304.1h3v11.3h-3zM531 315.4h3v6.2h-3zM534 321.6h3v7.1h-3zM537 328.7h3v3.5h-3zM540 327.2h3v5h-3zM549 286.6h3v13.4h-3zM552 300h3v10.7h-3zM555 310.7h3v13.3h-3zM558 324h3v9.4h-3zM564 322.3h3v7.3h-3zM567 327.3h3v2.2h-3zM570 329.6h3v17.4h-3zM579 335.8h3v18.1h-3zM582 353.9h3v5.8h-3zM585 359.7h3v12.6h-3zM591 359.1h3v7.5h-3zM600 335.8h3v16h-3zM603 341.7h3v10.1h-3zM609 341.7h3v8.8h-3zM618 307.1h3v5.3h-3zM624 303.1h3v11.6h-3zM627 314.7h3v12.9h-3zM630 327.6h3v8h-3zM636 332.4h3v14.8h-3zM645 327.4h3v14.6h-3zM651 329.8h3v4.2h-3zM660 304.6h3v19.6h-3zM663 324.2h3v6.6h-3zM666 330.8h3v11h-3zM669 341.8h3v3.4h-3zM672 345.2h3v14.4h-3zM675 359.6h3v3.1h-3zM678 362.7h3v4.8h-3zM684 351.6h3v8.2h-3zM693 337.6h3v13.1h-3zM699 343.2h3v16.6h-3zM702 359.8h3v30.2h-3zM705 371.2h3v18.8h-3zM708 390h3v39.6h-3zM711 429.6h3v44h-3zM732 350.1h3v21h-3zM735 365.8h3v5.3h-3zM738 371.1h3v14.5h-3zM741 374.6h3v11h-3zM750 343.8h3v6.8h-3zM759 339.4h3v12h-3zM762 351.4h3v21.7h-3zM765 373.1h3v14.2h-3zM768 387.3h3v8.1h-3zM771 395.4h3v10.6h-3zM789 343.5h3v11.2h-3zM795 347.4h3v13.2h-3zM798 360.6h3v12.2h-3zM804 365h3v13.8h-3zM807 378.8h3v41.2h-3zM810 420h3v37.7h-3zM813 457.7h3v8.6h-3zM819 451.4h3v9.2h-3zM831 433.4h3v17h-3zM834 450.4h3v34.3h-3zM837 477.8h3v6.9h-3zM846 463.4h3v8h-3zM852 463.4h3v4.7h-3zM861 445.4h3v6.2h-3zM867 446.5h3v17.2h-3zM882 400.4h3v14h-3zM888 403.6h3v6.9h-3zM894 396.4h3v20.6h-3zM897 417h3v7.4h-3zM903 418h3v13.2h-3zM906 431.2h3v5.2h-3zM909 436.4h3v1.3h-3zM912 437.7h3v4.9h-3zM915 442.6h3v9.8h-3zM918 452.4h3v2.8h-3zM921 455.2h3v8h-3zM924 463.2h3v1.9h-3zM927 465.1h3v11.7h-3zM930 476.8h3v27.2h-3zM936 479.8h3v9.6h-3zM948 444.7h3v12.1h-3zM951 456.8h3v16h-3zM957 457.2h3v9.2h-3zM963 453.6h3v11.8h-3zM966 465.4h3v15.6h-3zM972 469.3h3v12.4h-3zM978 466.9h3v19.1h-3zM981 486h3v23.5h-3zM987 505.6h3v5.5h-3zM1002 451.8h3v6.2h-3zM1008 451.6h3v9h-3zM1011 460.6h3v6.4h-3zM1014 467h3v2h-3zM1020 466h3v3h-3zM1023 469h3v6.4h-3zM1032 456.4h3v6.6h-3zM1041 448.1h3v9.3h-3zM1047 447.7h3v9.6h-3zM1053 452.1h3v7.1h-3zM1059 451.6h3v3.8h-3zM1068 430.7h3v9.9h-3zM1071 440.6h3v18.4h-3zM1077 453.9h3v5.6h-3zM1080 459.5h3v7.5h-3zM1086 462.4h3v24.5h-3zM1092 483.3h3v10.1h-3zM1095 493.4h3v32.6h-3zM1110 502.4h3v22.9h-3zM1113 518h3v35h-3zM1116 553h3v20h-3zM1128 567h3v16h-3z"/><rect x="907.3" y="482.8" width="258" height="29" rx="8" fill="#7a7cf0" fill-opacity="0.38" stroke="#8a8cf2" stroke-width="1"/><path d="M907 494H1159" stroke="#ee1122" stroke-width="2" stroke-dasharray="4 3" fill="none"/><rect x="925.3" y="499.8" width="75" height="16.6" fill="#7fdc8f" fill-opacity="0.42" stroke="#86d492" stroke-width="1" stroke-dasharray="1 1"/><path d="M105.8 25.4C108.8 27.4 118.3 33.3 123.7 37.2C129.1 41.1 133.2 44.9 138 48.7C142.8 52.5 147.5 55.8 152.3 60.1C157.1 64.4 161.9 69.7 166.7 74.5C171.5 79.3 176.2 85.5 181 88.8C185.8 92.1 190.3 92.8 195.4 94.5C200.5 96.2 206.2 96.6 211.5 99C216.8 101.4 222.1 105.2 227.4 108.7C232.7 112.2 238 116.6 243.3 119.8C248.6 123 253.7 125.7 259 127.8C264.3 129.9 269.7 130.6 275 132.5C280.3 134.4 285.7 136.9 291 139C296.3 141.1 301.7 142.4 307 145.3C312.3 148.2 317.3 152.2 323 156.4C328.7 160.6 335.6 165.5 341 170.2C346.4 174.9 350.5 180.9 355.3 184.5C360.1 188.1 365.1 189.8 369.7 191.7C374.2 193.6 376.1 193.9 382.6 196C389.1 198.1 400 201.1 408.7 204.4C417.4 207.7 428.2 213.2 435 216C441.8 218.8 444.5 219.4 449.3 221.5C454.1 223.6 458.9 226.7 463.7 228.7C468.5 230.7 473.2 231.5 478 233.7C482.8 235.8 487.5 238.8 492.3 241.6C497.1 244.3 501.9 247.6 506.7 250.2C511.5 252.8 516.2 255.3 521 257.3C525.8 259.3 530.5 260.6 535.3 262.3C540.1 264 544.9 265.7 549.7 267.4C554.5 269.1 558.6 270.2 564 272.5C569.4 274.8 576 278.3 582 281C588 283.7 593 286.3 600 288.5C607 290.7 614.5 292.1 623.7 294.4C632.9 296.6 645.8 299.6 655 302C664.2 304.4 671.2 306.4 678.7 308.5C686.2 310.6 691.5 311 700 314.5C708.5 318 720 326 730 329.5C740 333 749.2 333.2 760 335.5C770.8 337.8 787 341.7 795 343.5C803 345.3 803 344.2 808 346.5C813 348.8 818 353.2 825 357.5C832 361.8 841.7 367.9 850 372.5C858.3 377.1 866.7 382 875 385C883.3 388 892.5 388.3 900 390.5C907.5 392.7 914 395.8 919.7 398C925.4 400.2 929.9 402 934 403.8C938.1 405.6 940.2 406.8 944.3 408.7C948.4 410.6 953.9 413.1 958.7 415.1C963.5 417.1 968.2 418.8 973 420.8C977.8 422.8 982.5 425.6 987.3 427.3C992.1 429 996.9 429.6 1001.7 430.9C1006.5 432.2 1011.2 434 1016 435.2C1020.8 436.4 1025.5 437.2 1030.3 438C1035.1 438.8 1039.9 439.6 1044.7 440.2C1049.5 440.8 1053.5 441 1059 441.6C1064.5 442.2 1071.7 443.1 1078 444C1084.3 444.9 1090.5 445.2 1097 447.3C1103.5 449.4 1110.8 453.5 1116.8 456.7C1122.8 459.9 1126.7 462.9 1132.8 466.3C1138.9 469.8 1150 475.5 1153.5 477.4" fill="none" stroke="#fff" stroke-width="3.4" stroke-dasharray="3.4 2.6" stroke-opacity="0.6"/><path d="M105.8 25.4C108.8 27.4 118.3 33.3 123.7 37.2C129.1 41.1 133.2 44.9 138 48.7C142.8 52.5 147.5 55.8 152.3 60.1C157.1 64.4 161.9 69.7 166.7 74.5C171.5 79.3 176.2 85.5 181 88.8C185.8 92.1 190.3 92.8 195.4 94.5C200.5 96.2 206.2 96.6 211.5 99C216.8 101.4 222.1 105.2 227.4 108.7C232.7 112.2 238 116.6 243.3 119.8C248.6 123 253.7 125.7 259 127.8C264.3 129.9 269.7 130.6 275 132.5C280.3 134.4 285.7 136.9 291 139C296.3 141.1 301.7 142.4 307 145.3C312.3 148.2 317.3 152.2 323 156.4C328.7 160.6 335.6 165.5 341 170.2C346.4 174.9 350.5 180.9 355.3 184.5C360.1 188.1 365.1 189.8 369.7 191.7C374.2 193.6 376.1 193.9 382.6 196C389.1 198.1 400 201.1 408.7 204.4C417.4 207.7 428.2 213.2 435 216C441.8 218.8 444.5 219.4 449.3 221.5C454.1 223.6 458.9 226.7 463.7 228.7C468.5 230.7 473.2 231.5 478 233.7C482.8 235.8 487.5 238.8 492.3 241.6C497.1 244.3 501.9 247.6 506.7 250.2C511.5 252.8 516.2 255.3 521 257.3C525.8 259.3 530.5 260.6 535.3 262.3C540.1 264 544.9 265.7 549.7 267.4C554.5 269.1 558.6 270.2 564 272.5C569.4 274.8 576 278.3 582 281C588 283.7 593 286.3 600 288.5C607 290.7 614.5 292.1 623.7 294.4C632.9 296.6 645.8 299.6 655 302C664.2 304.4 671.2 306.4 678.7 308.5C686.2 310.6 691.5 311 700 314.5C708.5 318 720 326 730 329.5C740 333 749.2 333.2 760 335.5C770.8 337.8 787 341.7 795 343.5C803 345.3 803 344.2 808 346.5C813 348.8 818 353.2 825 357.5C832 361.8 841.7 367.9 850 372.5C858.3 377.1 866.7 382 875 385C883.3 388 892.5 388.3 900 390.5C907.5 392.7 914 395.8 919.7 398C925.4 400.2 929.9 402 934 403.8C938.1 405.6 940.2 406.8 944.3 408.7C948.4 410.6 953.9 413.1 958.7 415.1C963.5 417.1 968.2 418.8 973 420.8C977.8 422.8 982.5 425.6 987.3 427.3C992.1 429 996.9 429.6 1001.7 430.9C1006.5 432.2 1011.2 434 1016 435.2C1020.8 436.4 1025.5 437.2 1030.3 438C1035.1 438.8 1039.9 439.6 1044.7 440.2C1049.5 440.8 1053.5 441 1059 441.6C1064.5 442.2 1071.7 443.1 1078 444C1084.3 444.9 1090.5 445.2 1097 447.3C1103.5 449.4 1110.8 453.5 1116.8 456.7C1122.8 459.9 1126.7 462.9 1132.8 466.3C1138.9 469.8 1150 475.5 1153.5 477.4" fill="none" stroke="#d6112a" stroke-width="2.1" stroke-dasharray="3.4 2.6"/></g><path d="M201.5 83.5h8v7.5h4l-8 7l-8 -7h4z" fill="#ff0000" stroke="#fff" stroke-width="1" paint-order="stroke"/><path d="M387 176.1h8v7.5h4l-8 7l-8 -7h4z" fill="#ff0000" stroke="#fff" stroke-width="1" paint-order="stroke"/><path d="M618 278.5h8v7.5h4l-8 7l-8 -7h4z" fill="#ff0000" stroke="#fff" stroke-width="1" paint-order="stroke"/><path d="M656.5 283.5h8v7.5h4l-8 7l-8 -7h4z" fill="#ff0000" stroke="#fff" stroke-width="1" paint-order="stroke"/><path d="M726 298.5h8v7.5h4l-8 7l-8 -7h4z" fill="#ff0000" stroke="#fff" stroke-width="1" paint-order="stroke"/><path d="M756 310.9h8v7.5h4l-8 7l-8 -7h4z" fill="#ff0000" stroke="#fff" stroke-width="1" paint-order="stroke"/><path d="M789 321.5h8v7.5h4l-8 7l-8 -7h4z" fill="#ff0000" stroke="#fff" stroke-width="1" paint-order="stroke"/><path d="M891 369.3h8v7.5h4l-8 7l-8 -7h4z" fill="#ff0000" stroke="#fff" stroke-width="1" paint-order="stroke"/><path d="M1083.5 436h8v7.5h4l-8 7l-8 -7h4z" fill="#ff0000" stroke="#fff" stroke-width="1" paint-order="stroke"/><path d="M1064.5 407.9h8v7.5h4l-8 7l-8 -7h4z" fill="#ff9a10" stroke="#fff" stroke-width="1" paint-order="stroke"/><text x="253.4" y="359.1" font-size="13.2" fill="#262626" textLength="126.6" lengthAdjust="spacingAndGlyphs" font-family="Liberation Sans">Asian Contagion/LT</text><text x="253.4" y="375.8" font-size="13.2" fill="#262626" textLength="118.6" lengthAdjust="spacingAndGlyphs" font-family="Liberation Sans">Cap. Management</text><text x="322.5" y="414.8" font-size="13.2" fill="#262626" textLength="79.8" lengthAdjust="spacingAndGlyphs" font-family="Liberation Sans">Bear market</text><text x="322.5" y="430.6" font-size="13.2" fill="#262626" textLength="105.9" lengthAdjust="spacingAndGlyphs" font-family="Liberation Sans">bottom in stocks</text><text x="580" y="481.9" font-size="13.2" fill="#262626" textLength="105" lengthAdjust="spacingAndGlyphs" font-family="Liberation Sans">Armageddon '08</text><text x="742.5" y="489.2" font-size="13.2" fill="#262626" textLength="67.1" lengthAdjust="spacingAndGlyphs" font-family="Liberation Sans">Fiscal Cliff</text><text x="514.8" y="168.7" font-size="15.5" fill="#ff6914" textLength="127.8" lengthAdjust="spacingAndGlyphs" font-family="Liberation Sans" stroke="#ff6914" stroke-width="0.25">Cyclical inflation</text><text x="514.8" y="186.6" font-size="15.5" fill="#ff6914" textLength="115.4" lengthAdjust="spacingAndGlyphs" font-family="Liberation Sans" stroke="#ff6914" stroke-width="0.25">signals run hot</text><text x="691.2" y="158.6" font-size="15.5" fill="#fd991c" textLength="161.1" lengthAdjust="spacingAndGlyphs" font-family="Liberation Sans" stroke="#fd991c" stroke-width="0.25">Post-bailout Inflation</text><text x="691.2" y="176.2" font-size="15.5" fill="#fd991c" textLength="184.7" lengthAdjust="spacingAndGlyphs" font-family="Liberation Sans" stroke="#fd991c" stroke-width="0.25">concerns run a little hot</text><text x="883.3" y="270.2" font-size="15.5" fill="#fd991c" textLength="208.4" lengthAdjust="spacingAndGlyphs" font-family="Liberation Sans" stroke="#fd991c" stroke-width="0.25">Financial media &amp; Wall St.</text><text x="883.3" y="288.5" font-size="15.5" fill="#fd991c" textLength="171.5" lengthAdjust="spacingAndGlyphs" font-family="Liberation Sans" stroke="#fd991c" stroke-width="0.25">"Great Rotation" hype</text><text x="958.5" y="347.1" font-size="13.5" fill="#193d89" font-weight="bold" textLength="85.5" lengthAdjust="spacingAndGlyphs" font-family="Liberation Sans">BOND KING</text><text x="1049.5" y="347.1" font-size="13.5" fill="#193d89" font-weight="bold" textLength="66.8" lengthAdjust="spacingAndGlyphs" font-family="Liberation Sans">at it again</text><text x="892.6" y="604.9" font-size="16.5" fill="#2f9a1b" font-weight="bold" textLength="145.6" lengthAdjust="spacingAndGlyphs" font-family="Liberation Sans">Powell the Dove!!!</text><text x="377.3" y="597.3" font-size="16" fill="#1414ee" font-weight="bold" textLength="204.8" lengthAdjust="spacingAndGlyphs" font-family="Liberation Sans">The Continuum, nftrh.com</text><path d="M418.3 410.4L490.1 375.6" stroke="#333333" stroke-width="1.6" stroke-dasharray="4.5 3" fill="none"/><path d="M499.5 371L492.5 380.5L487.7 370.6z" fill="#333333"/><path d="M613.5 194.5L621.2 257.8" stroke="#ff6a13" stroke-width="1.1" stroke-dasharray="3 2" fill="none"/><path d="M622.5 268.2L615.8 258.4L626.7 257.1z" fill="#ff6a13"/><path d="M640.5 189L655.7 267.7" stroke="#ff6a13" stroke-width="1.1" stroke-dasharray="3 2" fill="none"/><path d="M657.7 278L650.3 268.7L661.1 266.6z" fill="#ff6a13"/><path d="M703.6 187.4L722.6 284.5" stroke="#ffa01e" stroke-width="1.1" stroke-dasharray="3 2" fill="none"/><path d="M724.6 294.8L717.2 285.6L728 283.4z" fill="#ffa01e"/><path d="M736 188L757.5 296" stroke="#ffa01e" stroke-width="1.1" stroke-dasharray="3 2" fill="none"/><path d="M759.6 306.3L752.2 297.1L762.9 294.9z" fill="#ffa01e"/><path d="M757.2 186.5L789.5 305.2" stroke="#ffa01e" stroke-width="1.1" stroke-dasharray="3 2" fill="none"/><path d="M792.3 315.3L784.2 306.6L794.8 303.7z" fill="#ffa01e"/><path d="M934 296.9L904 352.8" stroke="#ffa01e" stroke-width="1.1" stroke-dasharray="3 2" fill="none"/><path d="M899 362L899.1 350.1L908.8 355.4z" fill="#ffa01e"/><path d="M1120.6 349.3L1147.8 463.5" stroke="#1c3f86" stroke-width="1.2" stroke-dasharray="none" fill="none"/><path d="M1150.3 474.2L1142.4 464.8L1153.1 462.2z" fill="#1c3f86"/><path d="M1045 600.4L1091 600.5" stroke="#2f9a1b" stroke-width="1.5" stroke-dasharray="none" fill="none"/><path d="M1103 600.5L1091 605.5L1091 595.5z" fill="#2f9a1b"/><path d="M841.6 208.8L1178.3 208.8L1178.3 251.1L848 251.1L796.3 339.6L841.6 244z" transform="translate(1.6 1.6)" fill="#8d8d8d" fill-opacity="0.75"/><path d="M841.6 208.8L1178.3 208.8L1178.3 251.1L848 251.1L796.3 339.6L841.6 244z" fill="#ffffff" stroke="#8a8a8a" stroke-width="1"/><text x="844.6" y="225.6" font-size="15.6" fill="#193d89" font-weight="bold" textLength="323.7" lengthAdjust="spacingAndGlyphs" font-family="Liberation Sans">BOND KING famously shorts the long</text><text x="844.6" y="244.4" font-size="15.6" fill="#193d89" font-weight="bold" textLength="308.7" lengthAdjust="spacingAndGlyphs" font-family="Liberation Sans">bond, betting yields will keep rising</text><path d="M913.4 366.3L1060.8 366.3L1060.8 387.8L1068 406L1054 387.8L913.4 387.8z" transform="translate(1.6 1.6)" fill="#8d8d8d" fill-opacity="0.75"/><path d="M913.4 366.3L1060.8 366.3L1060.8 387.8L1068 406L1054 387.8L913.4 387.8z" fill="#ffffff" stroke="#8a8a8a" stroke-width="1"/><text x="916.3" y="381.8" font-size="14.8" fill="#ff0000" font-weight="bold" textLength="127.1" lengthAdjust="spacingAndGlyphs" font-family="Liberation Sans">Powell the Hawk!!!</text><path d="M487.3 403.6L913.3 403.6L913.3 421L945 488L904.6 427.6L487.3 427.6z" transform="translate(1.6 1.6)" fill="#8d8d8d" fill-opacity="0.75"/><path d="M487.3 403.6L913.3 403.6L913.3 421L945 488L904.6 427.6L487.3 427.6z" fill="#ffffff" stroke="#8a8a8a" stroke-width="1"/><text x="490.6" y="420.7" font-size="14.8" fill="#0a0aee" font-weight="bold" textLength="414.4" lengthAdjust="spacingAndGlyphs" font-family="Liberation Sans">The Fed would like to be in this box right here...</text><path d="M949.4 457.6L1043.2 457.6L1043.2 474L1112.4 546.2L1036.5 479L949.4 479z" transform="translate(1.6 1.6)" fill="#8d8d8d" fill-opacity="0.75"/><path d="M949.4 457.6L1043.2 457.6L1043.2 474L1112.4 546.2L1036.5 479L949.4 479z" fill="#ffffff" stroke="#8a8a8a" stroke-width="1"/><text x="952.3" y="473.4" font-size="13.7" fill="#262626" textLength="78" lengthAdjust="spacingAndGlyphs" font-family="Liberation Sans">Coronavirus</text><path d="M643.8 516.5L918.9 516.5L961.5 509.3L924.5 522.5L924.5 538.4L643.8 538.4z" transform="translate(1.6 1.6)" fill="#8d8d8d" fill-opacity="0.75"/><path d="M643.8 516.5L918.9 516.5L961.5 509.3L924.5 522.5L924.5 538.4L643.8 538.4z" fill="#ffffff" stroke="#8a8a8a" stroke-width="1"/><text x="646.2" y="532.5" font-size="13.7" fill="#262626" textLength="257.5" lengthAdjust="spacingAndGlyphs" font-family="Liberation Sans">Double dip w/ market correction &amp; NIRP</text><path d="M982.4 534.3L1063.8 534.3L1095 530L1068.8 542L1068.8 555.9L982.4 555.9z" transform="translate(1.6 1.6)" fill="#8d8d8d" fill-opacity="0.75"/><path d="M982.4 534.3L1063.8 534.3L1095 530L1068.8 542L1068.8 555.9L982.4 555.9z" fill="#ffffff" stroke="#8a8a8a" stroke-width="1"/><text x="985.7" y="550.3" font-size="13.7" fill="#262626" textLength="69.1" lengthAdjust="spacingAndGlyphs" font-family="Liberation Sans">Trade War</text><path d="M976.8 561.5L1080.9 561.5L1080.9 577L1114 590.7L1076.6 583.5L976.8 583.5z" transform="translate(1.6 1.6)" fill="#8d8d8d" fill-opacity="0.75"/><path d="M976.8 561.5L1080.9 561.5L1080.9 577L1114 590.7L1076.6 583.5L976.8 583.5z" fill="#ffffff" stroke="#8a8a8a" stroke-width="1"/><text x="979.7" y="577" font-size="13.7" fill="#262626" textLength="88.5" lengthAdjust="spacingAndGlyphs" font-family="Liberation Sans">COVID Crash</text><rect x="935" y="38.5" width="224" height="169.5" fill="#ffffff"/><g clip-path="url(#ph)"><rect x="936" y="39.5" width="211" height="164" fill="#05050b"/><g filter="url(#bl)"><path d="M936 38L982 38L970 56L962 62L936 49z" fill="#163896"/><path d="M944 38L972 38L962 50L950 48z" fill="#2650b8"/><path d="M1126 58L1150 54L1150 140L1130 139L1132 110L1136 86z" fill="#2556cc"/><path d="M1138 70L1150 66L1150 128L1140 126L1137 95z" fill="#3a70e2"/><path d="M971 38L1012 38L1002 52L993 72L986 92L982 110L980 140L978 168L966 172L954 162L949 140L946 118L946 95L951 75L960 56z" fill="#4e4742"/><g stroke="#958c84" stroke-width="2.4" fill="none" stroke-linecap="round"><path d="M1004 40Q985 60 972 100"/><path d="M994 40Q975 60 962 95"/><path d="M984 42Q966 62 955 92"/><path d="M1000 48Q988 75 982 105"/><path d="M972 100Q960 120 958 150"/><path d="M966 140Q962 155 970 168"/></g><g stroke="#6e665f" stroke-width="2" fill="none"><path d="M990 42Q970 70 960 110"/><path d="M978 50Q960 80 952 120"/></g><path d="M1090 38L1118 38L1130 52L1138 80L1137 110L1132 135L1124 152L1110 158L1104 140L1108 110L1110 80L1104 55z" fill="#55504b"/><g stroke="#a39d96" stroke-width="2.4" fill="none" stroke-linecap="round"><path d="M1098 40Q1118 55 1126 90"/><path d="M1106 42Q1128 60 1132 100"/><path d="M1112 70Q1120 100 1116 135"/><path d="M1124 95Q1128 120 1120 148"/></g><path d="M1002 38L1096 38L1106 58L1110 84L1109 110L1105 130L1100 150L1094 168L1084 186L1072 204L1008 204L992 195L982 175L979 150L981 115L985 88L992 62z" fill="#bb8a76"/><ellipse cx="1052" cy="58" rx="46" ry="28" fill="#c99f8c"/><ellipse cx="1058" cy="48" rx="32" ry="13" fill="#cfa694"/><ellipse cx="1010" cy="135" rx="22" ry="30" fill="#b3806d"/><ellipse cx="1090" cy="135" rx="12" ry="22" fill="#b3806d"/><ellipse cx="1060" cy="120" rx="14" ry="16" fill="#c4927d"/><ellipse cx="990" cy="98" rx="7" ry="20" fill="#a47260"/><ellipse cx="1104" cy="112" rx="5" ry="16" fill="#a47260"/><ellipse cx="968" cy="123" rx="10" ry="21" fill="#b07a66"/><ellipse cx="971" cy="125" rx="5" ry="13" fill="#8e5c4c"/><ellipse cx="1099" cy="151" rx="6" ry="9" fill="#b07a66"/><path d="M982 150L998 172L1020 192L1050 204L1000 204L986 190z" fill="#8c5a48"/><path d="M1000 175Q1040 200 1078 188L1072 204L1015 204z" fill="#a06a58"/><path d="M975 180L990 190L1006 205L969 205L971 190z" fill="#e6e6ec"/><path d="M958 188L972 182L968 205L950 205z" fill="#181a28"/><g stroke="#b07e6a" stroke-width="1.6" fill="none" opacity="0.8"><path d="M1030 60Q1055 55 1085 62"/><path d="M1025 70Q1055 64 1090 72"/></g><path d="M1010 87Q1028 78 1048 88" stroke="#5e3e32" stroke-width="4.5" fill="none"/><path d="M1066 101Q1084 93 1102 104" stroke="#5e3e32" stroke-width="4.5" fill="none"/><ellipse cx="1028" cy="101" rx="14" ry="9" fill="#a06c5a"/><ellipse cx="1085" cy="111" rx="14" ry="9" fill="#a06c5a"/><ellipse cx="1028" cy="100" rx="10" ry="5.6" fill="#b9a6a2"/><ellipse cx="1085" cy="110" rx="10" ry="5.4" fill="#b9a6a2"/><circle cx="1027.6" cy="99.8" r="5.6" fill="#52667a"/><circle cx="1027.6" cy="99.8" r="2.3" fill="#10141c"/><circle cx="1084.5" cy="109.8" r="5.3" fill="#52667a"/><circle cx="1084.5" cy="109.8" r="2.1" fill="#10141c"/><path d="M1017 97Q1028 91 1040 97" stroke="#3e2620" stroke-width="1.8" fill="none"/><path d="M1074 107Q1085 101 1097 107" stroke="#3e2620" stroke-width="1.8" fill="none"/><path d="M1017 105Q1028 111 1040 105" stroke="#9a5e50" stroke-width="1.8" fill="none"/><path d="M1074 115Q1085 121 1097 115" stroke="#9a5e50" stroke-width="1.8" fill="none"/><path d="M1050 100L1044 120L1038 132L1046 139L1058 141L1072 138L1070 122L1060 102z" fill="#c08c77"/><ellipse cx="1057" cy="124" rx="10" ry="8" fill="#cc9b86"/><path d="M1048 104L1042 124" stroke="#a06c5a" stroke-width="3" fill="none"/><ellipse cx="1045" cy="133" rx="5.5" ry="2.6" fill="#3a201b"/><ellipse cx="1064" cy="136.5" rx="5" ry="2.4" fill="#3a201b"/><path d="M1036 134Q1026 146 1024 158" stroke="#946050" stroke-width="3" fill="none"/><path d="M1074 138Q1080 150 1074 162" stroke="#946050" stroke-width="3" fill="none"/><path d="M1024 154Q1048 146 1072 156Q1048 158 1024 154z" fill="#8e5448"/><path d="M1027 156Q1048 151 1070 157Q1050 166 1027 156z" fill="#22100e"/><path d="M1030 163Q1050 170 1068 162Q1050 175 1030 163z" fill="#b47666"/></g></g><rect x="17" y="26" width="136" height="10.5" fill="#f6f6fb"/><rect x="17" y="36.5" width="83" height="10" fill="#f6f6fb"/><g stroke="#ff6600" stroke-width="1" fill="none"><path d="M20.5 29.5h2v4h-2z M21.5 28v1.5 M21.5 33.5v1.5 M27.5 29.5h2v4h-2z M28.5 28v1.5 M28.5 33.5v1.5"/></g><rect x="23.5" y="30" width="3" height="3.5" fill="#ff6600"/><text x="31.9" y="34.4" font-size="8.6" fill="#111" textLength="119" lengthAdjust="spacingAndGlyphs" font-family="Liberation Sans" stroke="#111" stroke-width="0.15">$TYX (Monthly) 24.51</text><path d="M19 41.5h3M24 41.5h3" stroke="#dd1122" stroke-width="1.6"/><text x="30.1" y="44.5" font-size="8.6" fill="#dd1122" textLength="69" lengthAdjust="spacingAndGlyphs" font-family="Liberation Sans" stroke="#dd1122" stroke-width="0.2">EMA(100) 27.19</text><text x="16.8" y="12" font-size="11" fill="#000" font-weight="bold" textLength="30.2" lengthAdjust="spacingAndGlyphs" font-family="Liberation Sans">$TYX</text><text x="51.8" y="11.2" font-size="9" fill="#111" textLength="161.7" lengthAdjust="spacingAndGlyphs" font-family="Liberation Sans">CBOE 30-Year US Treasury Yield</text><text x="218" y="11.2" font-size="7.6" fill="#111" textLength="23.7" lengthAdjust="spacingAndGlyphs" font-family="Liberation Sans">INDX</text><text x="16.8" y="23.2" font-size="8.3" fill="#111" textLength="57.7" lengthAdjust="spacingAndGlyphs" font-family="Liberation Sans">19-Mar-2021</text><text x="1070" y="11.6" font-size="9.2" fill="#555" textLength="89.7" lengthAdjust="spacingAndGlyphs" font-family="Liberation Sans">© StockCharts.com</text><text x="793" y="23.2" font-size="9.3" fill="#000" font-weight="bold" textLength="28" lengthAdjust="spacingAndGlyphs" font-family="Liberation Sans">Open</text><text x="825" y="23.2" font-size="9.3" fill="#000" textLength="26" lengthAdjust="spacingAndGlyphs" font-family="Liberation Sans">22.28</text><text x="857.8" y="23.2" font-size="9.3" fill="#000" font-weight="bold" textLength="23.2" lengthAdjust="spacingAndGlyphs" font-family="Liberation Sans">High</text><text x="885.3" y="23.2" font-size="9.3" fill="#000" textLength="26" lengthAdjust="spacingAndGlyphs" font-family="Liberation Sans">25.05</text><text x="917.6" y="23.2" font-size="9.3" fill="#000" font-weight="bold" textLength="23.1" lengthAdjust="spacingAndGlyphs" font-family="Liberation Sans">Low</text><text x="944.8" y="23.2" font-size="9.3" fill="#000" textLength="26.2" lengthAdjust="spacingAndGlyphs" font-family="Liberation Sans">21.83</text><text x="977.8" y="23.2" font-size="9.3" fill="#000" font-weight="bold" textLength="31.2" lengthAdjust="spacingAndGlyphs" font-family="Liberation Sans">Close</text><text x="1012.7" y="23.2" font-size="9.3" fill="#000" textLength="26.3" lengthAdjust="spacingAndGlyphs" font-family="Liberation Sans">24.51</text><text x="1046" y="23.2" font-size="9.3" fill="#000" font-weight="bold" textLength="21" lengthAdjust="spacingAndGlyphs" font-family="Liberation Sans">Chg</text><text x="1071" y="23.2" font-size="9.3" fill="#000" textLength="78.7" lengthAdjust="spacingAndGlyphs" font-family="Liberation Sans">+2.69 (+12.33%)</text><path d="M1151.7 22.7L1155.5 18.7L1159.4 22.7z" fill="#8090b0"/></svg></body></html>
